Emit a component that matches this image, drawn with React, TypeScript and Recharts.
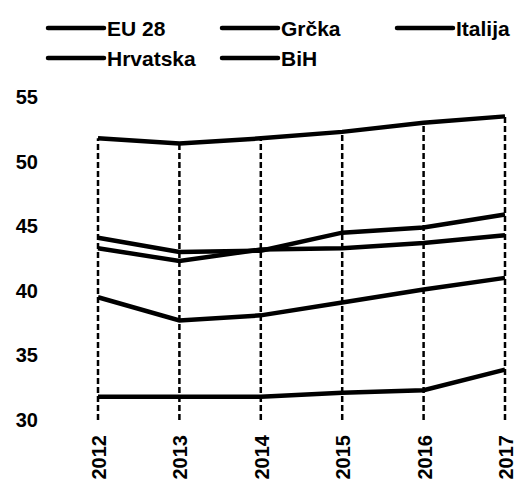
import React from 'react';
import { LineChart, Line, XAxis, YAxis, Legend, ReferenceLine } from 'recharts';

const years = [2012, 2013, 2014, 2015, 2016, 2017];
const eu28 = [51.8, 51.4, 51.8, 52.3, 53.0, 53.5];
const italija = [44.1, 43.0, 43.1, 44.5, 44.9, 45.9];
const hrvatska = [43.3, 42.3, 43.2, 43.3, 43.7, 44.3];
const grcka = [39.5, 37.7, 38.1, 39.1, 40.1, 41.0];
const bih = [31.8, 31.8, 31.8, 32.1, 32.3, 33.9];
const yTicks = [30, 35, 40, 45, 50, 55];

const seriesNames = ['EU 28', 'Grčka', 'Italija', 'Hrvatska', 'BiH'];
const seriesKeys = ['eu28', 'grcka', 'italija', 'hrvatska', 'bih'];

const data = years.map((year, i) => ({
  year,
  eu28: eu28[i],
  grcka: grcka[i],
  italija: italija[i],
  hrvatska: hrvatska[i],
  bih: bih[i],
}));

const FONT = '"Liberation Sans", Arial, sans-serif';

const legendPos = [
  { x: 48, y: 28 },
  { x: 222, y: 28 },
  { x: 397, y: 28 },
  { x: 48, y: 58 },
  { x: 222, y: 58 },
];

const LegendContent = () => (
  <svg width={517} height={70} style={{ display: 'block' }}>
    {seriesNames.map((name, i) => {
      const p = legendPos[i];
      return (
        <g key={name}>
          <line x1={p.x} x2={p.x + 56} y1={p.y} y2={p.y} stroke="#000" strokeWidth={4.5} strokeLinecap="round" />
          <text x={p.x + 59} y={p.y + 7.5} fontFamily={FONT} fontWeight="bold" fontSize={21} fill="#000">
            {name}
          </text>
        </g>
      );
    })}
  </svg>
);

const XTick = (props: any) => {
  const { x, y, payload } = props;
  return (
    <text
      transform={`translate(${x + 8}, ${y}) rotate(-90)`}
      textAnchor="end"
      fontFamily={FONT}
      fontWeight="bold"
      fontSize={20}
      fill="#000"
    >
      {payload.value}
    </text>
  );
};

const YTick = (props: any) => {
  const { x, y, payload } = props;
  return (
    <text x={x} y={y + 7} textAnchor="end" fontFamily={FONT} fontWeight="bold" fontSize={20} fill="#000">
      {payload.value}
    </text>
  );
};

export default function App() {
  return (
    <div style={{ position: 'absolute', left: 0, top: 0, width: 517, height: 483, background: '#fff' }}>
      <LineChart width={517} height={483} data={data} margin={{ top: 27, right: 12, bottom: 0, left: 38 }}>
        <Legend
          verticalAlign="top"
          height={70}
          content={<LegendContent />}
          wrapperStyle={{ top: 0, left: 0, width: 517, height: 70 }}
        />
        <XAxis
          dataKey="year"
          type="number"
          domain={[2012, 2017]}
          ticks={years}
          axisLine={false}
          tickLine={false}
          tickSize={0}
          tickMargin={15}
          height={63}
          tick={<XTick />}
          interval={0}
        />
        <YAxis
          type="number"
          domain={[30, 55]}
          ticks={yTicks}
          axisLine={false}
          tickLine={false}
          tickSize={0}
          tickMargin={60}
          width={60}
          tick={<YTick />}
          interval={0}
        />
        {years.map((year, i) => (
          <ReferenceLine
            key={year}
            segment={[
              { x: year, y: 30 },
              { x: year, y: Math.max(eu28[i], grcka[i], italija[i], hrvatska[i], bih[i]) },
            ]}
            stroke="#000"
            strokeWidth={2.5}
            strokeDasharray="6 3"
          />
        ))}
        {seriesKeys.map((k, i) => (
          <Line
            key={k}
            dataKey={k}
            name={seriesNames[i]}
            stroke="#000"
            strokeWidth={4.5}
            dot={false}
            isAnimationActive={false}
            type="linear"
          />
        ))}
      </LineChart>
    </div>
  );
}
